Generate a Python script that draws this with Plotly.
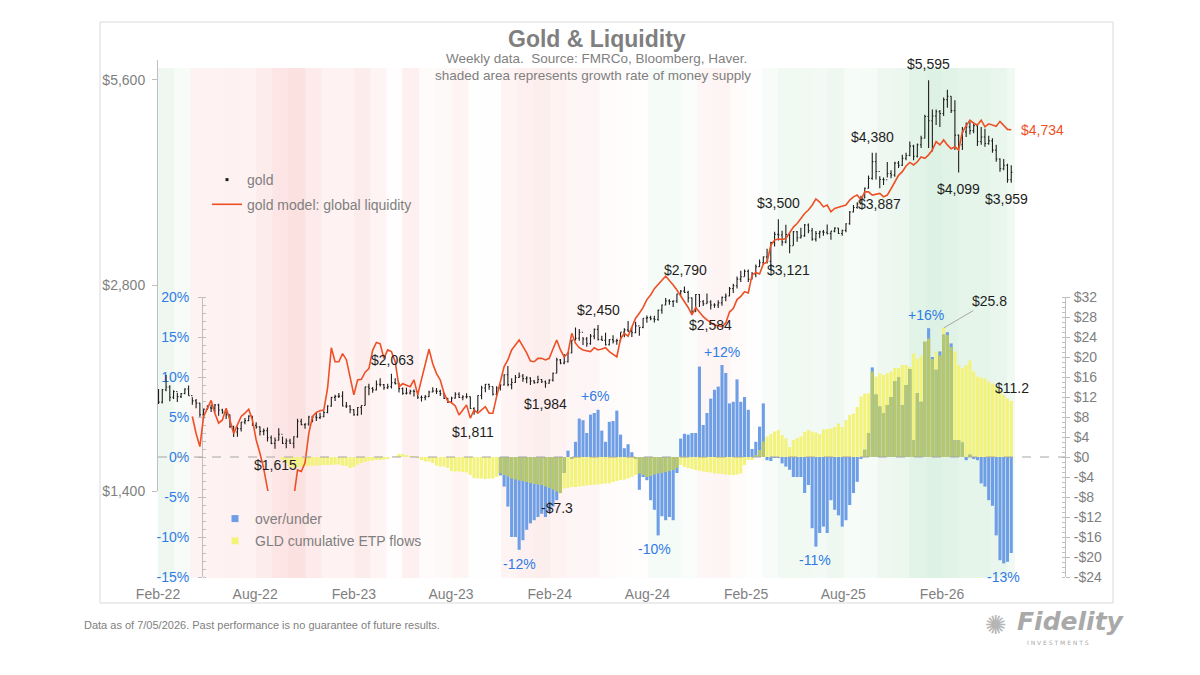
import math
import pandas as pd
import plotly.graph_objects as go

W, H = 1200, 675
GRAY = "#7F7F7F"
AXIS_GRAY = "#BFBFBF"
BLUE_TEXT = "#2F7BE5"
RED = "#EE5026"
BLACK = "#1E1E1E"
YELLOW = "rgb(243,243,122)"
BLUE = "rgb(110,158,230)"
OLIVE = "rgb(183,200,108)"
FONT = "Liberation Sans, Arial, Helvetica, sans-serif"

# ---------------- data ----------------
first_week = "2022-02-25"   # weekly bars (Fridays)

gold_close = [
    1889, 1970, 1988, 1921, 1958, 1925, 1945, 1975, 1931, 1897,
    1883, 1811, 1846, 1853, 1851, 1871, 1840, 1827, 1811, 1742,
    1708, 1727, 1766, 1775, 1802, 1747, 1738, 1712, 1716, 1675,
    1644, 1661, 1695, 1644, 1657, 1645, 1681, 1771, 1751, 1755,
    1797, 1797, 1793, 1798, 1824, 1865, 1920, 1926, 1928, 1865,
    1865, 1842, 1811, 1855, 1868, 1989, 1978, 1969, 2007, 2004,
    1983, 1990, 2017, 2011, 1977, 1946, 1948, 1961, 1958, 1921,
    1919, 1925, 1955, 1962, 1959, 1943, 1913, 1889, 1915, 1940,
    1919, 1924, 1925, 1849, 1833, 1932, 1981, 2006, 1992, 1940,
    1981, 2002, 2072, 2004, 2019, 2053, 2063, 2045, 2049, 2029,
    2018, 2039, 2024, 2013, 2035, 2083, 2179, 2155, 2165, 2230,
    2330, 2344, 2391, 2337, 2301, 2360, 2415, 2334, 2327, 2293,
    2333, 2321, 2326, 2392, 2411, 2400, 2387, 2443, 2431, 2507,
    2512, 2503, 2497, 2577, 2622, 2658, 2653, 2657, 2721, 2747,
    2736, 2685, 2563, 2716, 2650, 2633, 2648, 2622, 2621, 2640,
    2690, 2702, 2770, 2798, 2861, 2883, 2936, 2858, 2910, 2984,
    3023, 3084, 3037, 3237, 3327, 3319, 3241, 3325, 3202, 3357,
    3289, 3310, 3433, 3368, 3274, 3337, 3355, 3350, 3337, 3363,
    3398, 3336, 3372, 3448, 3587, 3643, 3685, 3760, 3887, 4018,
    4252, 4113, 4002, 4000, 4085, 4065, 4230, 4200, 4300, 4340,
    4480, 4330, 4500, 4600, 4950, 4880, 4960, 5030, 5000, 5240,
    5300, 5050, 4650, 4500, 4700, 4780, 4720, 4800, 4550, 4620,
    4520, 4560, 4420, 4290, 4150, 4200, 4000, 4100,
]
gold_high = [
    1974, 1975, 2070, 2000, 1966, 1950, 1948, 1980, 1998, 1920,
    1910, 1885, 1849, 1870, 1874, 1877, 1879, 1847, 1830, 1812,
    1745, 1739, 1767, 1791, 1807, 1802, 1765, 1740, 1729, 1735,
    1688, 1677, 1730, 1682, 1671, 1670, 1684, 1786, 1787, 1760,
    1804, 1800, 1824, 1823, 1833, 1870, 1922, 1937, 1949, 1960,
    1890, 1870, 1845, 1858, 1870, 1990, 2010, 1988, 2032, 2048,
    2008, 2010, 2079, 2048, 2019, 1985, 1983, 1970, 1971, 1961,
    1932, 1935, 1964, 1987, 1982, 1970, 1946, 1918, 1924, 1953,
    1953, 1933, 1947, 1925, 1857, 1934, 1997, 2009, 2010, 1992,
    1993, 2007, 2075, 2135, 2048, 2070, 2088, 2078, 2062, 2055,
    2036, 2065, 2043, 2032, 2041, 2088, 2195, 2185, 2223, 2236,
    2330, 2431, 2417, 2353, 2353, 2378, 2422, 2450, 2364, 2387,
    2336, 2368, 2339, 2392, 2424, 2483, 2432, 2477, 2433, 2508,
    2531, 2529, 2529, 2580, 2625, 2685, 2672, 2664, 2722, 2758,
    2790, 2750, 2688, 2721, 2721, 2666, 2726, 2664, 2638, 2665,
    2697, 2725, 2786, 2817, 2886, 2942, 2955, 2956, 2930, 3005,
    3057, 3087, 3168, 3245, 3357, 3500, 3368, 3435, 3345, 3366,
    3365, 3403, 3446, 3451, 3398, 3365, 3368, 3375, 3439, 3363,
    3409, 3400, 3378, 3453, 3600, 3674, 3707, 3791, 3896, 4059,
    4380, 4380, 4046, 4030, 4245, 4130, 4250, 4260, 4350, 4380,
    4550, 4500, 4520, 4640, 4980, 5595, 5070, 5070, 5060, 5280,
    5420, 5300, 5230, 4660, 4780, 4850, 4860, 4850, 4820, 4780,
    4750, 4640, 4600, 4500, 4300, 4290, 4220, 4200,
]
gold_low = [
    1878, 1880, 1960, 1895, 1910, 1890, 1915, 1940, 1930, 1872,
    1850, 1799, 1787, 1840, 1828, 1825, 1805, 1816, 1785, 1732,
    1680, 1681, 1711, 1754, 1771, 1745, 1727, 1688, 1690, 1654,
    1639, 1615, 1660, 1640, 1617, 1640, 1617, 1675, 1747, 1727,
    1745, 1765, 1773, 1785, 1796, 1820, 1860, 1896, 1916, 1862,
    1853, 1819, 1804, 1805, 1810, 1868, 1934, 1950, 1965, 1992,
    1970, 1974, 1978, 2005, 1952, 1937, 1938, 1938, 1925, 1910,
    1893, 1902, 1922, 1952, 1942, 1929, 1910, 1884, 1889, 1913,
    1915, 1901, 1913, 1846, 1810, 1834, 1908, 1953, 1970, 1932,
    1931, 1965, 1998, 1993, 1973, 2016, 2050, 2024, 2013, 2002,
    2010, 2015, 2015, 1984, 2010, 2025, 2083, 2146, 2146, 2160,
    2228, 2325, 2324, 2291, 2277, 2292, 2336, 2325, 2326, 2287,
    2286, 2303, 2293, 2318, 2351, 2394, 2353, 2383, 2364, 2423,
    2470, 2491, 2472, 2485, 2546, 2620, 2624, 2604, 2639, 2704,
    2730, 2643, 2536, 2562, 2605, 2613, 2632, 2583, 2597, 2596,
    2614, 2656, 2700, 2730, 2772, 2832, 2886, 2833, 2857, 2880,
    2981, 3002, 3016, 2957, 3193, 3260, 3202, 3228, 3121, 3205,
    3245, 3280, 3301, 3340, 3255, 3247, 3283, 3310, 3325, 3268,
    3350, 3330, 3311, 3350, 3436, 3580, 3628, 3685, 3759, 3880,
    4000, 4004, 3887, 3930, 4030, 4020, 4040, 4160, 4190, 4270,
    4330, 4270, 4310, 4450, 4600, 4450, 4400, 4810, 4780, 4960,
    5100, 5010, 4420, 4099, 4420, 4620, 4660, 4680, 4480, 4500,
    4470, 4500, 4380, 4250, 4110, 4130, 3959, 3960,
]

model_start = 9   # first week index of the liquidity model
gold_model = [
    1800,
    1700, 1626, 1800, 1850, 1900, 1820, 1760, 1779, 1850, 1779,
    1700, 1750, 1800, 1820, 1845, 1779, 1663, 1590, 1510, 1410,
    1330, 1290, 1260, 1250, 1280, 1320, 1370, 1503, 1495, 1540,
    1700, 1800, 1825, 1835, 1840, 1980, 2270, 2165, 2165, 2225,
    2180, 2050, 1936, 2036, 2040, 2090, 2115, 2250, 2310, 2300,
    2190, 2253, 2240, 2165, 1990, 2010, 2000, 1990, 2036, 1936,
    2040, 2150, 2258, 2150, 2080, 2036, 1947, 1895, 1885, 1865,
    1809, 1840, 1872, 1790, 1840, 1820, 1840, 1860, 1820, 1820,
    1925, 2030, 2130, 2178, 2253, 2291, 2330, 2280, 2230, 2170,
    2165, 2190, 2190, 2178, 2190, 2260, 2330, 2253, 2200, 2230,
    2383, 2305, 2270, 2253, 2245, 2240, 2270, 2253, 2260, 2270,
    2240, 2220, 2200, 2340, 2383, 2360, 2430, 2507, 2550, 2600,
    2670, 2712, 2770, 2805, 2850, 2890, 2851, 2805, 2758, 2698,
    2650, 2600, 2535, 2600, 2560, 2520, 2493, 2468, 2451, 2445,
    2437, 2468, 2560, 2590, 2670, 2698, 2742, 2730, 2899, 2925,
    2910, 3010, 3030, 3208, 3263, 3275, 3270, 3280, 3340, 3410,
    3450, 3510, 3570, 3611, 3670, 3750, 3710, 3650, 3672, 3590,
    3630, 3645, 3660, 3672, 3735, 3775, 3798, 3735, 3840, 3840,
    3798, 3810, 3820, 3775, 3798, 3880, 3960, 4060, 4110, 4190,
    4240, 4204, 4250, 4320, 4300, 4350, 4422, 4548, 4498, 4575,
    4498, 4440, 4470, 4422, 4700, 4800, 4890, 4840, 4810, 4890,
    4780, 4830, 4810, 4790, 4870, 4810, 4740, 4734,
]

ou_start = 91     # first week index of over/under (%)
over_under = [
    -2.3, -3.7, -6.2, -10.0, -10.0, -11.6, -10.4, -9.1, -8.3,
    -7.9, -7.5, -7.1, -7.5, -6.8, -6.2, -5.4, -4.5, -2.0, 0.8,
    -0.2, 1.9, 4.8, 4.6, 3.0, 5.3, 5.5, 5.9, 3.3, 1.9,
    4.4, 4.5, 5.8, 2.8, 1.1, 1.6, 0.6, -0.2, -4.1, -2.5,
    -2.9, -5.4, -6.6, -9.8, -7.4, -7.9, -7.5, -7.9, -2.0, 2.3,
    2.9, 2.8, 3.0, 3.0, 11.3, 4.0, 5.5, 7.3, 8.4, 8.8,
    11.5, 10.5, 6.7, 6.9, 9.7, 6.9, 7.5, 5.9, 1.0, 1.9,
    3.8, 6.7, -0.4, -0.5, -0.1, -0.1, -0.8, -1.2, -1.6, -2.5,
    -2.5, -2.5, -4.5, -3.5, -8.9, -11.2, -9.5, -8.7, -9.5, -5.4,
    -6.6, -7.3, -8.7, -7.9, -6.0, -4.5, -3.1, -0.2, 0.9, 3.0,
    11.2, 7.8, 6.3, 5.5, 6.5, 7.5, 9.5, 10.0, 6.5, 9.0,
    11.0, 2.1, 8.0, 6.9, 14.4, 16.1, 12.5, 10.9, 13.2, 15.3,
    15.6, 14.2, 2.1, 2.1, 1.8, -0.4, 0.3, -0.2, -0.4, -3.3,
    -3.7, -5.4, -6.1, -9.8, -12.9, -13.3, -13.1, -12.0,
]

gld_start = 33    # first week index of GLD cumulative flows ($bn)
gld_flows = [
    -0.6, -1.2, -2.0, -2.2, -2.0, -1.9, -1.9,
    -1.8, -1.8, -1.7, -1.7, -1.6, -1.6, -1.6, -1.5, -1.5, -1.7,
    -1.8, -2.2, -2.0, -1.5, -1.2, -1.0, -0.8, -0.7, -0.6, -0.6,
    -0.5, -0.3, 0.0, 0.2, 0.6, 0.6, 0.4, 0.1, 0.1, -0.1,
    -0.6, -0.9, -0.9, -1.2, -1.7, -1.9, -1.9, -2.2, -2.8, -2.9,
    -2.9, -3.0, -3.1, -3.6, -4.2, -4.3, -4.3, -4.4, -4.3, -4.3,
    -4.0, -3.3, -3.6, -3.9, -4.3, -4.5, -4.7, -4.8, -5.0, -5.2,
    -5.4, -5.5, -5.6, -5.9, -6.2, -6.5, -6.9, -7.3, -6.3, -6.2,
    -6.0, -6.0, -5.9, -5.8, -5.7, -5.6, -5.6, -5.5, -5.4, -5.3,
    -5.3, -5.0, -4.8, -4.6, -4.5, -4.3, -4.0, -3.6, -3.3, -3.6,
    -4.0, -3.8, -3.5, -3.3, -3.2, -3.0, -2.8, -2.6, -2.2, -1.6,
    -2.0, -2.2, -2.4, -2.6, -2.7, -2.9, -3.0, -3.1, -3.3, -3.3,
    -3.4, -3.5, -3.6, -3.6, -3.5, -3.3, -1.6, -0.6, -0.6, 0.4,
    1.4, 3.1, 4.1, 4.6, 5.1, 5.4, 4.4, 3.7, 2.0, 3.4,
    3.8, 4.1, 5.0, 5.4, 5.1, 4.9, 4.6, 5.5, 5.6, 5.7,
    6.0, 6.7, 6.0, 7.4, 8.4, 8.7, 10.0, 12.1, 12.7, 12.7,
    17.1, 16.1, 16.7, 16.4, 16.7, 17.1, 17.8, 17.8, 18.4, 18.4,
    18.0, 20.7, 19.6, 20.3, 23.1, 23.7, 19.6, 21.1, 20.3, 25.8,
    24.4, 22.0, 21.1, 18.4, 17.8, 18.4, 19.3, 17.1, 16.1, 15.9,
    15.7, 15.1, 14.7, 14.1, 13.4, 12.4, 11.7, 11.2,
]

# monthly money-supply growth signal for the background shading (-1 red .. +1 green)
shade_first_month = "2022-03-01"
money_growth = [
    0.35, 0.15, -0.30, -0.30, -0.32, -0.30, -0.45, -0.60, -0.70, -0.50,
    -0.30, -0.30, -0.45, -0.25, -0.05, -0.35, -0.10, -0.15, -0.25, 0.05,
    -0.03, -0.25, -0.35, -0.40, -0.30, -0.20, -0.20, -0.10, -0.08, -0.05,
    0.20, 0.20, 0.10, -0.20, -0.25, -0.10, 0.05, 0.15, 0.30, 0.30,
    0.25, 0.35, 0.15, 0.20, 0.35, 0.40, 0.60, 0.70, 0.65, 0.55,
    0.55, 0.45, 0.30,
]

xtick_dates = ["2022-02-24", "2022-08-24", "2023-02-24", "2023-08-24", "2024-02-24",
               "2024-08-24", "2025-02-24", "2025-08-24", "2026-02-24"]
xtick_text = ["Feb-22", "Aug-22", "Feb-23", "Aug-23", "Feb-24",
              "Aug-24", "Feb-25", "Aug-25", "Feb-26"]
price_ticks = [1400, 2800, 5600]
price_tick_text = ["$1,400", "$2,800", "$5,600"]
pct_ticks = [-15, -10, -5, 0, 5, 10, 15, 20]
pct_tick_text = ["-15%", "-10%", "-5%", "0%", "5%", "10%", "15%", "20%"]
usd_ticks = [-24, -20, -16, -12, -8, -4, 0, 4, 8, 12, 16, 20, 24, 28, 32]
usd_tick_text = ["-$24", "-$20", "-$16", "-$12", "-$8", "-$4", "$0", "$4", "$8",
                 "$12", "$16", "$20", "$24", "$28", "$32"]

PRICE_RANGE = [1400, 6000]
PCT_RANGE = [-15, 20]
USD_RANGE = [-24, 32]
X_RANGE = ["2022-02-24", "2026-07-10"]

# ---------------- derived ----------------
weeks = pd.date_range(first_week, periods=len(gold_close), freq="7D")
gold_open = [gold_close[0]] + gold_close[:-1]      # weekly open = prior week's close
model_x = weeks[model_start:model_start + len(gold_model)]
ou_x = weeks[ou_start:ou_start + len(over_under)]
gld_x = weeks[gld_start:gld_start + len(gld_flows)]
shade_x = pd.date_range(shade_first_month, periods=len(money_growth), freq="MS") + pd.Timedelta(days=9)

# overlap of the two bar series (drawn olive), expressed on the $ axis
scale = (USD_RANGE[1] - USD_RANGE[0]) / (PCT_RANGE[1] - PCT_RANGE[0])
ov_x, ov_y = [], []
for k, ou in enumerate(over_under):
    j = ou_start + k - gld_start
    g = gld_flows[j]
    o = ou * scale
    ov_x.append(weeks[ou_start + k])
    ov_y.append((1 if g > 0 else -1) * min(abs(g), abs(o)) if g * o > 0 else 0)

BAR_W = 5.8 * 86400000


def px(x):
    return x / W


def py(y):
    return 1 - y / H


fig = go.Figure()
fig.add_trace(go.Heatmap(
    x=shade_x, y=[0], z=[money_growth], zmin=-1, zmax=1, showscale=False,
    colorscale=[[0, "rgb(251,212,212)"], [0.5, "rgb(255,255,255)"], [1, "rgb(207,236,216)"]],
    hoverinfo="skip", xaxis="x", yaxis="y"))
fig.add_trace(go.Bar(
    x=gld_x, y=gld_flows, xaxis="x", yaxis="y2", width=BAR_W,
    marker=dict(color=YELLOW, line=dict(width=0)), showlegend=False, hoverinfo="skip"))
fig.add_trace(go.Bar(
    x=ou_x, y=over_under, xaxis="x", yaxis="y3", width=BAR_W,
    marker=dict(color=BLUE, line=dict(width=0)), showlegend=False, hoverinfo="skip"))
fig.add_trace(go.Bar(
    x=ov_x, y=ov_y, xaxis="x", yaxis="y4", width=BAR_W,
    marker=dict(color=OLIVE, line=dict(width=0)), showlegend=False, hoverinfo="skip"))
fig.add_trace(go.Scatter(
    x=model_x, y=gold_model, xaxis="x", yaxis="y5", mode="lines",
    line=dict(color=RED, width=1.6), name="gold model: global liquidity",
    legendgroup="l2", legendrank=2, hoverinfo="skip"))
fig.add_trace(go.Ohlc(
    x=weeks, open=gold_open, high=gold_high, low=gold_low, close=gold_close,
    xaxis="x", yaxis="y5", tickwidth=0.3,
    increasing=dict(line=dict(color=BLACK, width=1.1)),
    decreasing=dict(line=dict(color=BLACK, width=1.1)),
    showlegend=False, hoverinfo="skip"))
# legend entries (small square swatches like the original)
fig.add_trace(go.Scatter(
    x=[None], y=[None], xaxis="x", yaxis="y5", mode="markers",
    marker=dict(symbol="square", size=3, color=BLACK), name="gold",
    legendgroup="l1", legendrank=1))
fig.add_trace(go.Scatter(
    x=[None], y=[None], xaxis="x", yaxis="y3", mode="markers",
    marker=dict(symbol="square", size=7, color=BLUE), name="over/under",
    legend="legend2", legendgroup="b1", legendrank=1))
fig.add_trace(go.Scatter(
    x=[None], y=[None], xaxis="x", yaxis="y2", mode="markers",
    marker=dict(symbol="square", size=7, color=YELLOW), name="GLD cumulative ETP flows",
    legend="legend2", legendgroup="b2", legendrank=2))

tickfont = dict(family=FONT, size=14, color=GRAY)
annotations = []


def label(text, x, y, color=BLACK, size=14, **kw):
    d = dict(text=text, x=px(x), y=py(y), xref="paper", yref="paper", showarrow=False,
             font=dict(family=FONT, size=size, color=color), xanchor="center", yanchor="middle")
    d.update(kw)
    annotations.append(d)


label("<b>Gold &amp; Liquidity</b>", 597, 39, GRAY, 23)
label("Weekly data.  Source: FMRCo, Bloomberg, Haver.", 596, 58, GRAY, 13.5)
label("shaded area represents growth rate of money supply", 593, 75, GRAY, 13.5)

price_labels = [("$1,615", 275, 465), ("$2,063", 392, 360), ("$1,811", 473, 432),
                ("$1,984", 545, 404), ("$2,450", 598, 310), ("$2,790", 685, 270),
                ("$2,584", 710, 325), ("$3,500", 778, 203), ("$3,121", 788, 270),
                ("$4,380", 872, 137), ("$3,887", 879, 204), ("$5,595", 928, 64),
                ("$4,099", 958, 189), ("$3,959", 1007, 199)]
for t, x, y in price_labels:
    label(t, x, y)
label("$4,734", 1042, 130, RED)

pct_labels = [("+6%", 595, 396), ("-12%", 519, 564), ("-10%", 654, 549), ("+12%", 722, 352),
              ("-11%", 815, 560), ("+16%", 926, 315), ("-13%", 1003, 577)]
for t, x, y in pct_labels:
    label(t, x, y, BLUE_TEXT)
label("-$7.3", 557, 508)
label("$11.2", 1012, 388)

peak_k = max(range(len(gld_flows)), key=lambda k: gld_flows[k])
annotations.append(dict(
    text="$%.1f" % gld_flows[peak_k], x=weeks[gld_start + peak_k], y=gld_flows[peak_k],
    xref="x", yref="y2", showarrow=True, arrowhead=0, arrowwidth=1, arrowcolor="#A6A6A6",
    ax=46, ay=-27, standoff=0, font=dict(family=FONT, size=14, color=BLACK)))

label("Data as of 7/05/2026. Past performance is no guarantee of future results.",
      82, 625, GRAY, 11, xanchor="left")
annotations.append(dict(text="Fidelity", x=px(1071), y=py(621), xref="paper", yref="paper",
                        showarrow=False, xanchor="center", yanchor="middle",
                        font=dict(family="DejaVu Sans", size=25, color="#A9A9A9",
                                  weight="bold", style="italic")))
annotations.append(dict(text="I N V E S T M E N T S", x=px(1058), y=py(642), xref="paper",
                        yref="paper", showarrow=False, xanchor="center", yanchor="middle",
                        font=dict(family="DejaVu Sans", size=6, color="#A9A9A9")))
annotations.append(dict(text="✺", x=px(996), y=py(625), xref="paper", yref="paper",
                        showarrow=False, xanchor="center", yanchor="middle",
                        font=dict(family="DejaVu Sans", size=26, color="#B5B5B5")))

shapes = [
    dict(type="rect", xref="paper", yref="paper", x0=px(100), x1=px(1113), y0=py(603), y1=py(22),
         line=dict(color="#D9D9D9", width=1), fillcolor="rgba(0,0,0,0)", layer="below"),
    dict(type="line", xref="paper", yref="y2", x0=px(158), x1=px(1065), y0=0, y1=0,
         line=dict(color="#A6A6A6", width=1, dash="dash"), layer="above"),
]

fig.update_layout(
    width=W, height=H, margin=dict(l=0, r=0, t=0, b=0, autoexpand=False),
    paper_bgcolor="white", plot_bgcolor="rgba(0,0,0,0)",
    font=dict(family=FONT, size=14, color=GRAY),
    barmode="overlay", hovermode=False,
    annotations=annotations, shapes=shapes,
    xaxis=dict(domain=[px(158), px(1015)], range=X_RANGE, anchor="y",
               rangeslider=dict(visible=False),
               tickmode="array", tickvals=xtick_dates, ticktext=xtick_text,
               showgrid=False, zeroline=False, showline=False, ticks="",
               tickfont=tickfont, ticklabelstandoff=6),
    yaxis=dict(domain=[py(578), py(68)], range=[-0.5, 0.5], visible=False,
               anchor="x", fixedrange=True),
    yaxis2=dict(domain=[py(577), py(297)], range=USD_RANGE, anchor="free",
                position=px(1065), side="right", tickmode="array",
                tickvals=usd_ticks, ticktext=usd_tick_text, tickfont=tickfont,
                showgrid=False, zeroline=False, showline=True, linecolor=AXIS_GRAY,
                ticks="outside", ticklen=4, tickcolor=AXIS_GRAY, ticklabelstandoff=1,
                minor=dict(ticks="inside", ticklen=3, tickcolor=AXIS_GRAY, dtick=1,
                           tick0=0, showgrid=False)),
    yaxis3=dict(overlaying="y2", range=PCT_RANGE, anchor="free", position=px(202),
                side="left", tickmode="array", tickvals=pct_ticks, ticktext=pct_tick_text,
                tickfont=dict(family=FONT, size=14, color=BLUE_TEXT),
                showgrid=False, zeroline=False, showline=True, linecolor=AXIS_GRAY,
                ticks="outside", ticklen=4, tickcolor=AXIS_GRAY, ticklabelstandoff=6,
                minor=dict(ticks="inside", ticklen=3, tickcolor=AXIS_GRAY, dtick=1,
                           tick0=0, showgrid=False)),
    yaxis4=dict(overlaying="y2", range=USD_RANGE, visible=False),
    yaxis5=dict(domain=[py(491), py(59.5)], type="log",
                range=[math.log10(PRICE_RANGE[0]), math.log10(PRICE_RANGE[1])],
                anchor="x", side="left", tickmode="array", tickvals=price_ticks,
                ticktext=price_tick_text, tickfont=tickfont, showgrid=False,
                zeroline=False, showline=True, linecolor=AXIS_GRAY, ticks="outside",
                ticklen=5, tickcolor=AXIS_GRAY, ticklabelstandoff=4),
    legend=dict(x=px(207), y=py(164), xanchor="left", yanchor="top",
                bgcolor="rgba(0,0,0,0)", font=dict(family=FONT, size=14, color=GRAY),
                traceorder="grouped", tracegroupgap=3.5),
    legend2=dict(x=px(215), y=py(503), xanchor="left", yanchor="top",
                 bgcolor="rgba(0,0,0,0)", font=dict(family=FONT, size=14, color=GRAY),
                 traceorder="grouped", tracegroupgap=1),
)

fig.write_html("out.html", post_script="document.body.style.margin='0px';"
                                       "document.body.style.overflow='hidden';")
